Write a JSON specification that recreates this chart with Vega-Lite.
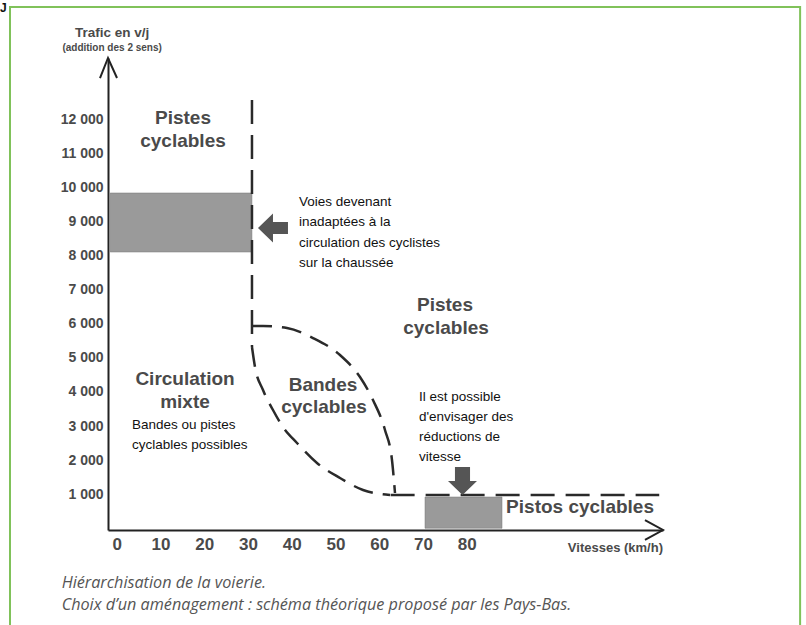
{
  "$schema": "https://vega.github.io/schema/vega-lite/v6.json",
  "width": 555,
  "height": 472,
  "autosize": {"type": "none"},
  "padding": {"left": 108, "top": 58, "right": 143, "bottom": 95},
  "background": "white",
  "config": {"view": {"stroke": null}},
  "datasets": {
    "frame": [{"x": -24.4, "x2": 156.2, "y": -3277, "y2": 15292}],
    "boxes": [
      {"x": -1.5, "x2": 30.9, "y": 8105, "y2": 9836},
      {"x": 70.46, "x2": 88.06, "y": 0, "y2": 918}
    ],
    "dashed": [
      {"seg": "v", "ord": 0, "x": 30.91, "y": 12564},
      {"seg": "v", "ord": 1, "x": 30.91, "y": 5318},
      {"seg": "h", "ord": 0, "x": 62.6, "y": 977},
      {"seg": "h", "ord": 1, "x": 124, "y": 977}
    ],
    "arcs": [
      {"seg": "r", "ord": 0, "x": 30.91, "y": 5934},
      {"seg": "r", "ord": 1, "x": 33.43, "y": 5934},
      {"seg": "r", "ord": 2, "x": 38.91, "y": 5875},
      {"seg": "r", "ord": 3, "x": 44.86, "y": 5582},
      {"seg": "r", "ord": 4, "x": 51.03, "y": 5083},
      {"seg": "r", "ord": 5, "x": 55.6, "y": 4438},
      {"seg": "r", "ord": 6, "x": 58.57, "y": 3763},
      {"seg": "r", "ord": 7, "x": 61.31, "y": 2883},
      {"seg": "r", "ord": 8, "x": 62.91, "y": 2003},
      {"seg": "r", "ord": 9, "x": 63.6, "y": 1035},
      {"seg": "l", "ord": 0, "x": 30.91, "y": 5318},
      {"seg": "l", "ord": 1, "x": 31.6, "y": 4731},
      {"seg": "l", "ord": 2, "x": 33.43, "y": 4057},
      {"seg": "l", "ord": 3, "x": 35.71, "y": 3470},
      {"seg": "l", "ord": 4, "x": 38.0, "y": 2971},
      {"seg": "l", "ord": 5, "x": 41.2, "y": 2502},
      {"seg": "l", "ord": 6, "x": 45.77, "y": 1915},
      {"seg": "l", "ord": 7, "x": 51.03, "y": 1475},
      {"seg": "l", "ord": 8, "x": 56.29, "y": 1123},
      {"seg": "l", "ord": 9, "x": 62.46, "y": 977}
    ],
    "chev": [
      {"seg": "ya", "ord": 0, "x": -3.83, "y": 13209},
      {"seg": "ya", "ord": 1, "x": -2, "y": 13796},
      {"seg": "ya", "ord": 2, "x": 0.06, "y": 13209},
      {"seg": "xa", "ord": 0, "x": 120.74, "y": 243},
      {"seg": "xa", "ord": 1, "x": 124.86, "y": -50},
      {"seg": "xa", "ord": 2, "x": 120.74, "y": -343}
    ],
    "leftArrow": [{"x": 35.71, "y": 8809}],
    "downArrow": [{"x": 79.03, "y": 1387}],
    "bold": [
      {"x": 15.14, "y": 12036, "t": "Pistes"},
      {"x": 15.14, "y": 11361, "t": "cyclables"},
      {"x": 75.03, "y": 6550, "t": "Pistes"},
      {"x": 75.26, "y": 5876, "t": "cyclables"},
      {"x": 15.6, "y": 4379, "t": "Circulation"},
      {"x": 15.6, "y": 3705, "t": "mixte"},
      {"x": 47.14, "y": 4203, "t": "Bandes"},
      {"x": 47.37, "y": 3558, "t": "cyclables"},
      {"x": 105.9, "y": 625, "t": "Pistos cyclables"}
    ],
    "plain": [
      {"x": 41.66, "y": 9572, "t": "Voies devenant"},
      {"x": 41.66, "y": 8985, "t": "inadaptées à la"},
      {"x": 41.66, "y": 8369, "t": "circulation des cyclistes"},
      {"x": 41.66, "y": 7782, "t": "sur la chaussée"},
      {"x": 3.49, "y": 3030, "t": "Bandes ou pistes"},
      {"x": 3.49, "y": 2443, "t": "cyclables possibles"},
      {"x": 69.09, "y": 3851, "t": "Il est possible"},
      {"x": 69.09, "y": 3265, "t": "d'envisager des"},
      {"x": 69.09, "y": 2678, "t": "réductions de"},
      {"x": 69.09, "y": 2091, "t": "vitesse"}
    ],
    "ytitle1": [{"x": -1.06, "y": 14529, "t": "Trafic en v/j"}],
    "ytitle2": [{"x": -1.06, "y": 14089, "t": "(addition des 2 sens)"}],
    "xtitle": [{"x": 124.86, "y": -578, "t": "Vitesses (km/h)"}],
    "caption": [
      {"x": -12.6, "y": -1605, "t": "Hiérarchisation de la voierie."},
      {"x": -12.6, "y": -2250, "t": "Choix d’un aménagement : schéma théorique proposé par les Pays-Bas."}
    ],
    "corner": [{"x": -26.69, "y": 15262, "t": "J"}]
  },
  "encoding": {
    "x": {
      "field": "x",
      "type": "quantitative",
      "scale": {"domain": [-2, 124.86], "nice": false, "zero": false},
      "axis": {
        "values": [0, 10, 20, 30, 40, 50, 60, 70, 80],
        "ticks": false,
        "grid": false,
        "title": null,
        "domainColor": "#222222",
        "domainWidth": 2,
        "labelFont": "Liberation Sans",
        "labelFontWeight": "bold",
        "labelFontSize": 17,
        "labelColor": "#4a4a4a",
        "labelPadding": 6,
        "labelFlush": false
      }
    },
    "y": {
      "field": "y",
      "type": "quantitative",
      "scale": {"domain": [-50, 13796], "nice": false, "zero": false},
      "axis": {
        "values": [1000, 2000, 3000, 4000, 5000, 6000, 7000, 8000, 9000, 10000, 11000, 12000],
        "format": ",d",
        "labelExpr": "replace(datum.label, ',', ' ')",
        "ticks": false,
        "grid": false,
        "title": null,
        "domainColor": "#222222",
        "domainWidth": 2,
        "labelFont": "Liberation Sans",
        "labelFontWeight": "bold",
        "labelFontSize": 14,
        "labelColor": "#4a4a4a",
        "labelPadding": 5
      }
    }
  },
  "layer": [
    {
      "data": {"name": "frame"},
      "mark": {"type": "rect", "fill": null, "stroke": "#80c25a", "strokeWidth": 2},
      "encoding": {"x2": {"field": "x2"}, "y2": {"field": "y2"}}
    },
    {
      "data": {"name": "boxes"},
      "mark": {"type": "rect", "fill": "#9a9a9a", "stroke": "#777777", "strokeWidth": 0.5},
      "encoding": {"x2": {"field": "x2"}, "y2": {"field": "y2"}}
    },
    {
      "data": {"name": "dashed"},
      "mark": {"type": "line", "stroke": "#2a2a2a", "strokeWidth": 2.5, "strokeDash": [24, 11]},
      "encoding": {"detail": {"field": "seg"}, "order": {"field": "ord"}}
    },
    {
      "data": {"name": "arcs"},
      "mark": {"type": "line", "stroke": "#2a2a2a", "strokeWidth": 2.5, "strokeDash": [20, 10], "interpolate": "monotone"},
      "encoding": {"detail": {"field": "seg"}, "order": {"field": "ord"}}
    },
    {
      "data": {"name": "chev"},
      "mark": {"type": "line", "stroke": "#222222", "strokeWidth": 2},
      "encoding": {"detail": {"field": "seg"}, "order": {"field": "ord"}}
    },
    {
      "data": {"name": "leftArrow"},
      "mark": {"type": "point", "filled": true, "fill": "#555555", "opacity": 1, "size": 900,
        "shape": "M -1 0 L 0 -0.97 L 0 -0.4 L 1 -0.4 L 1 0.4 L 0 0.4 L 0 0.97 Z"}
    },
    {
      "data": {"name": "downArrow"},
      "mark": {"type": "point", "filled": true, "fill": "#555555", "opacity": 1, "size": 841,
        "shape": "M 0 0.97 L -1 0 L -0.52 0 L -0.52 -0.97 L 0.52 -0.97 L 0.52 0 L 1 0 Z"}
    },
    {
      "data": {"name": "bold"},
      "mark": {"type": "text", "font": "Liberation Sans", "fontWeight": "bold", "fontSize": 19, "fill": "#4a4a4a", "align": "center", "baseline": "middle"},
      "encoding": {"text": {"field": "t"}}
    },
    {
      "data": {"name": "plain"},
      "mark": {"type": "text", "font": "Liberation Sans", "fontSize": 13.5, "fill": "#111111", "align": "left", "baseline": "middle"},
      "encoding": {"text": {"field": "t"}}
    },
    {
      "data": {"name": "ytitle1"},
      "mark": {"type": "text", "font": "Liberation Sans", "fontWeight": "bold", "fontSize": 13.5, "fill": "#4a4a4a", "align": "center", "baseline": "middle"},
      "encoding": {"text": {"field": "t"}}
    },
    {
      "data": {"name": "ytitle2"},
      "mark": {"type": "text", "font": "Liberation Sans", "fontWeight": "bold", "fontSize": 10, "fill": "#4a4a4a", "align": "center", "baseline": "middle"},
      "encoding": {"text": {"field": "t"}}
    },
    {
      "data": {"name": "xtitle"},
      "mark": {"type": "text", "font": "Liberation Sans", "fontWeight": "bold", "fontSize": 13, "fill": "#4a4a4a", "align": "right", "baseline": "middle"},
      "encoding": {"text": {"field": "t"}}
    },
    {
      "data": {"name": "caption"},
      "mark": {"type": "text", "font": "Open Sans", "fontStyle": "italic", "fontSize": 16.2, "fill": "#555555", "align": "left", "baseline": "middle"},
      "encoding": {"text": {"field": "t"}}
    },
    {
      "data": {"name": "corner"},
      "mark": {"type": "text", "font": "Liberation Sans", "fontWeight": "bold", "fontSize": 12, "fill": "#111111", "align": "left", "baseline": "middle"},
      "encoding": {"text": {"field": "t"}}
    }
  ]
}
